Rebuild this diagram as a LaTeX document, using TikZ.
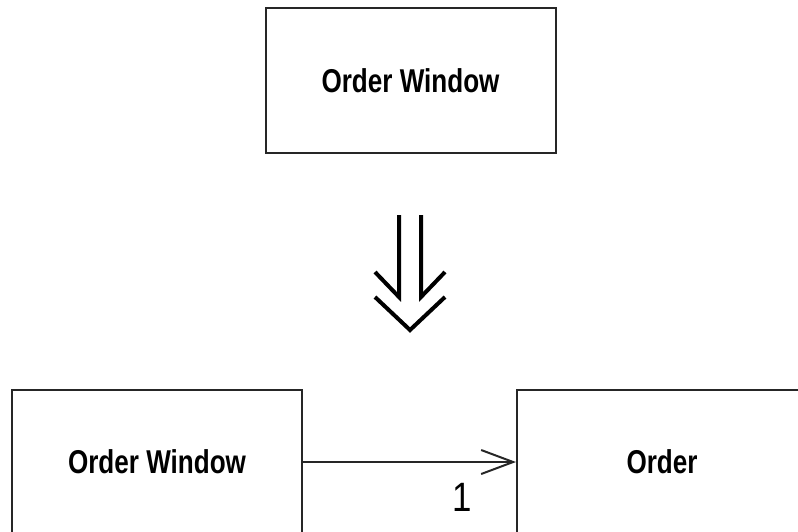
\documentclass[tikz,border=0pt]{standalone}
\usepackage{fontspec}
\setmainfont{Liberation Sans}
\usetikzlibrary{arrows.meta}
\begin{document}
\begin{tikzpicture}[x=1pt,y=-1pt,
  box/.style={draw=black!85, line width=2pt, minimum width=290pt, minimum height=145pt, inner sep=0pt, anchor=center},
  lbl/.style={font=\fontsize{33}{38}\selectfont\bfseries},
  bigarrow/.style={draw=black, line width=4pt, line join=miter},
  assoc/.style={draw=black!85, line width=2pt, -{Straight Barb[length=32pt,width=24pt,line width=2pt]}}]
\useasboundingbox (0,0) rectangle (798,531);
\clip (0,0) rectangle (798,531);
\node[box,lbl] (top) at (410.5,80.5) {\scalebox{0.79}[1]{Order Window}};
\node[box,lbl] (win) at (157,462) {\scalebox{0.79}[1]{Order Window}};
\node[box,lbl] (ord) at (662,462) {\scalebox{0.79}[1]{Order}};
\draw[assoc] (win.east) -- (ord.west);
\node[font=\fontsize{41}{44}\selectfont] (one) at (462,497) {\scalebox{0.85}[1]{1}};
\coordinate (da) at (410,215);
\draw[bigarrow] ([shift={(-35,57)}]da) -- ([shift={(-11,82)}]da) -- ([shift={(-11,0)}]da);
\draw[bigarrow] ([shift={(35,57)}]da) -- ([shift={(11,82)}]da) -- ([shift={(11,0)}]da);
\draw[bigarrow] ([shift={(-35,82)}]da) -- ([shift={(0,115)}]da) -- ([shift={(35,82)}]da);
\end{tikzpicture}
\end{document}
